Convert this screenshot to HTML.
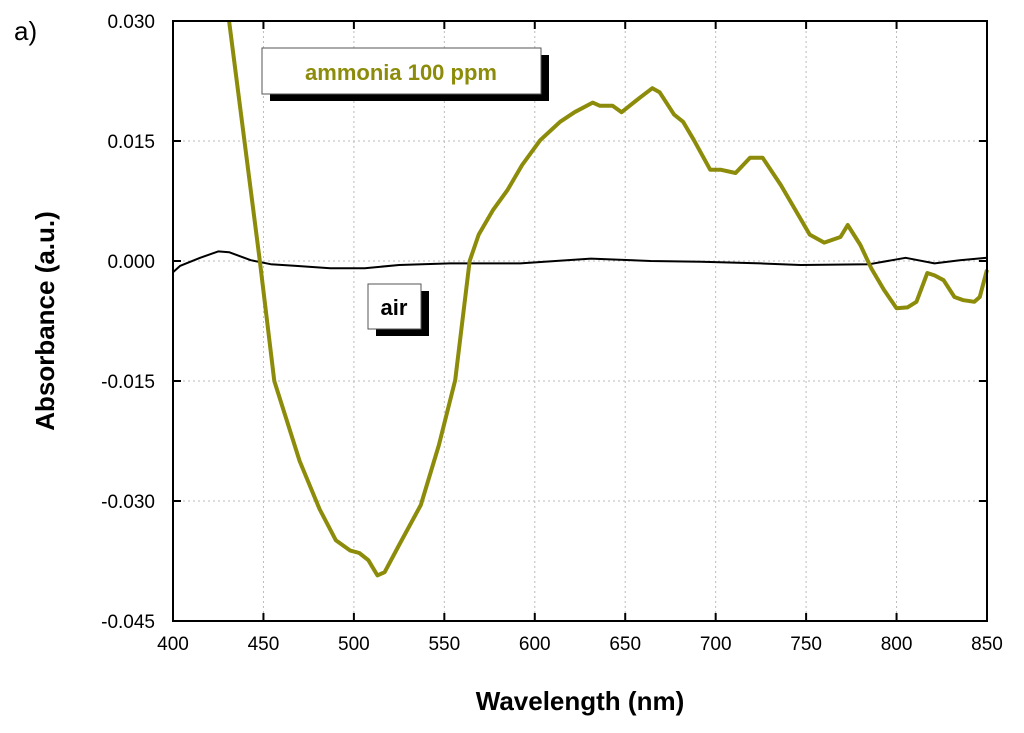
<!DOCTYPE html>
<html><head><meta charset="utf-8"><style>
body{margin:0;background:#fff;font-family:"Liberation Sans",Arial,sans-serif;}
</style></head><body>
<svg id="chart" width="1024" height="728" xmlns="http://www.w3.org/2000/svg" font-family="Liberation Sans, Arial, sans-serif">
<text x="14" y="40" font-size="26">a)</text>
<g id="grid"></g>
<g id="series"></g>
<rect x="173" y="21" width="814" height="600" fill="none" stroke="#000" stroke-width="2"/>
<g id="axes"></g>
<text x="580" y="710" font-size="26" font-weight="bold" text-anchor="middle">Wavelength (nm)</text>
<text transform="translate(54,321) rotate(-90)" font-size="26" font-weight="bold" text-anchor="middle">Absorbance (a.u.)</text>
<g>
<rect x="270" y="55" width="279" height="46" fill="#000"/>
<rect x="262" y="48" width="279" height="46" fill="#fff" stroke="#555" stroke-width="1"/>
<text x="401" y="80" font-size="22" font-weight="bold" fill="#8c8c0a" text-anchor="middle">ammonia 100 ppm</text>
</g>
<g>
<rect x="376" y="291" width="53" height="45" fill="#000"/>
<rect x="368" y="284" width="53" height="45" fill="#fff" stroke="#555" stroke-width="1"/>
<text x="394" y="315" font-size="22" font-weight="bold" fill="#000" text-anchor="middle">air</text>
</g>
</svg>
<script>
const xTicks=[400,450,500,550,600,650,700,750,800,850];
const yTicks=[0.030,0.015,0.000,-0.015,-0.030,-0.045];
const yTickLabels=["0.030","0.015","0.000","-0.015","-0.030","-0.045"];
const ammoniaX=[431,448,456,470,481,490,498,503,508,513,517,525,537,547,556,564,569,577,585,593,603,614,622,632,636,643,648,658,665,669,677,682,688,697,703,711,719,726,736,744,752,760,769,773,780,786,793,800,806,811,817,821,826,832,837,843,846,850];
const ammoniaY=[0.030,0,-0.015,-0.025,-0.031,-0.0349,-0.0362,-0.0365,-0.0374,-0.0393,-0.0389,-0.0355,-0.0305,-0.023,-0.0149,0,0.0033,0.0064,0.0089,0.012,0.0151,0.0174,0.0186,0.0198,0.0194,0.0194,0.0186,0.0204,0.0216,0.0211,0.0183,0.0174,0.0151,0.0114,0.0114,0.011,0.0129,0.0129,0.0095,0.0064,0.0033,0.0023,0.003,0.0045,0.002,-0.0009,-0.0036,-0.0059,-0.0058,-0.0051,-0.0015,-0.0018,-0.0024,-0.0045,-0.0049,-0.0051,-0.0045,-0.0011];
const airX=[400,404,415,425,431,443,454,467,487,506,525,553,592,631,664,692,725,747,785,805,821,835,850];
const airY=[-0.0014,-0.0006,0.0004,0.0012,0.0011,0.0001,-0.0004,-0.0006,-0.0009,-0.0009,-0.0005,-0.0003,-0.0003,0.0003,0,-0.0001,-0.0003,-0.0005,-0.0004,0.0004,-0.0003,0.0001,0.0004];
const NS="http://www.w3.org/2000/svg";
const L=173,R=987,T=21,B=621;
const xs=v=>L+(v-400)/450*(R-L);
const ys=v=>T+(0.030-v)/0.075*(B-T);
function mk(tag,attrs,parent){const e=document.createElementNS(NS,tag);for(const k in attrs)e.setAttribute(k,attrs[k]);document.getElementById(parent).appendChild(e);return e;}
xTicks.forEach(t=>{const x=xs(t);
 if(t>400&&t<850){const g=mk('line',{x1:x,x2:x,y1:T,y2:B,stroke:'#bbb','stroke-dasharray':'2,3'},'grid');
 
 }
 mk('line',{x1:x,x2:x,y1:B,y2:B-8,stroke:'#000','stroke-width':2},'axes');
 mk('line',{x1:x,x2:x,y1:T,y2:T+8,stroke:'#000','stroke-width':2},'axes');
 const tx=mk('text',{x:x,y:B+29,'font-size':19,'text-anchor':'middle'},'axes');tx.textContent=t;
 
 
});
yTicks.forEach((t,i)=>{const y=ys(t);
 if(i>0&&i<yTicks.length-1){const g=mk('line',{x1:L,x2:R,y1:y,y2:y,stroke:'#bbb','stroke-dasharray':'2,3'},'grid');
 
 }
 mk('line',{x1:L,x2:L+8,y1:y,y2:y,stroke:'#000','stroke-width':2},'axes');
 mk('line',{x1:R,x2:R-8,y1:y,y2:y,stroke:'#000','stroke-width':2},'axes');
 const tx=mk('text',{x:155,y:y+7,'font-size':19,'text-anchor':'end'},'axes');tx.textContent=yTickLabels[i];
 
 
});
const pa=mk('polyline',{points:airX.map((v,i)=>xs(v)+','+ys(airY[i])).join(' '),fill:'none',stroke:'#000','stroke-width':2,'stroke-linejoin':'round'},'series');


const pm=mk('polyline',{points:ammoniaX.map((v,i)=>xs(v)+','+ys(ammoniaY[i])).join(' '),fill:'none',stroke:'#8c8c0a','stroke-width':4,'stroke-linejoin':'round'},'series');


</script>
</body></html>
